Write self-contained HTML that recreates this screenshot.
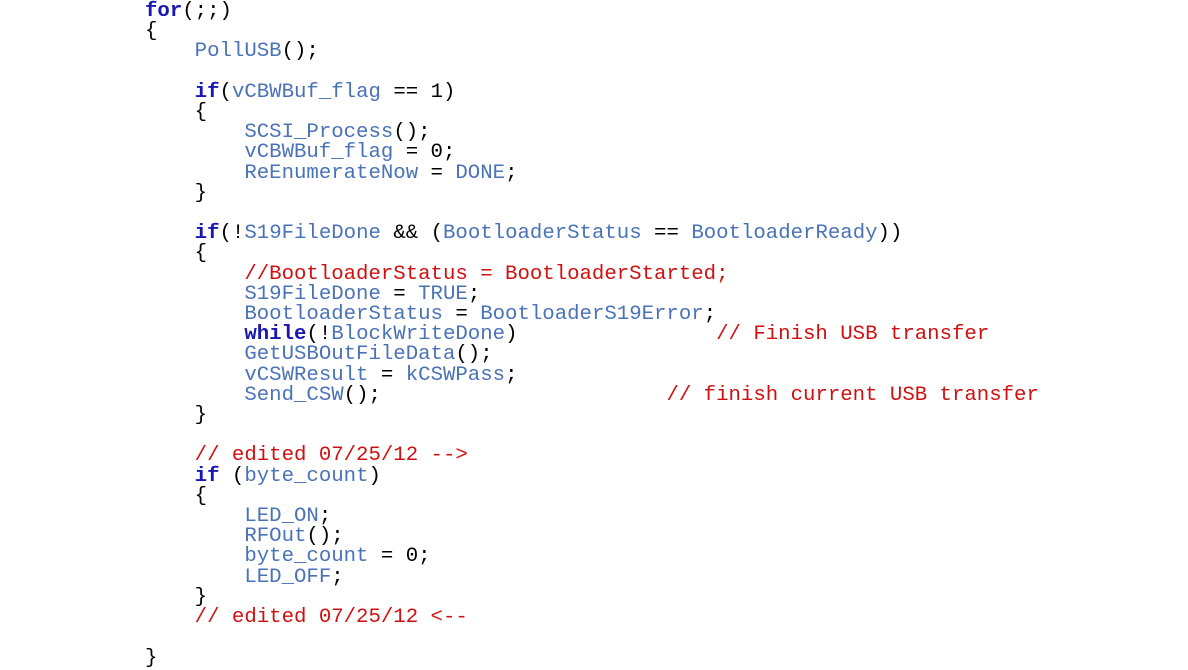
<!DOCTYPE html>
<html><head><meta charset="utf-8"><style>
html,body{margin:0;padding:0;background:#fff;width:1188px;height:668px;overflow:hidden}
pre{position:absolute;left:145px;top:2px;margin:0;font-family:"Liberation Mono",monospace;font-size:20.7px;line-height:20.2px;color:#000}
.i{color:#4a72b8}.k{color:#1818b0;font-weight:bold}.c{color:#d01010}
</style></head><body><pre><span class="k">for</span>(;;)
{
    <span class="i">PollUSB</span>();

    <span class="k">if</span>(<span class="i">vCBWBuf_flag</span> == 1)
    {
        <span class="i">SCSI_Process</span>();
        <span class="i">vCBWBuf_flag</span> = 0;
        <span class="i">ReEnumerateNow</span> = <span class="i">DONE</span>;
    }

    <span class="k">if</span>(!<span class="i">S19FileDone</span> &amp;&amp; (<span class="i">BootloaderStatus</span> == <span class="i">BootloaderReady</span>))
    {
        <span class="c">//BootloaderStatus = BootloaderStarted;</span>
        <span class="i">S19FileDone</span> = <span class="i">TRUE</span>;
        <span class="i">BootloaderStatus</span> = <span class="i">BootloaderS19Error</span>;
        <span class="k">while</span>(!<span class="i">BlockWriteDone</span>)                <span class="c">// Finish USB transfer</span>
        <span class="i">GetUSBOutFileData</span>();
        <span class="i">vCSWResult</span> = <span class="i">kCSWPass</span>;
        <span class="i">Send_CSW</span>();                       <span class="c">// finish current USB transfer</span>
    }

    <span class="c">// edited 07/25/12 --&gt;</span>
    <span class="k">if</span> (<span class="i">byte_count</span>)
    {
        <span class="i">LED_ON</span>;
        <span class="i">RFOut</span>();
        <span class="i">byte_count</span> = 0;
        <span class="i">LED_OFF</span>;
    }
    <span class="c">// edited 07/25/12 &lt;--</span>

}</pre></body></html>
